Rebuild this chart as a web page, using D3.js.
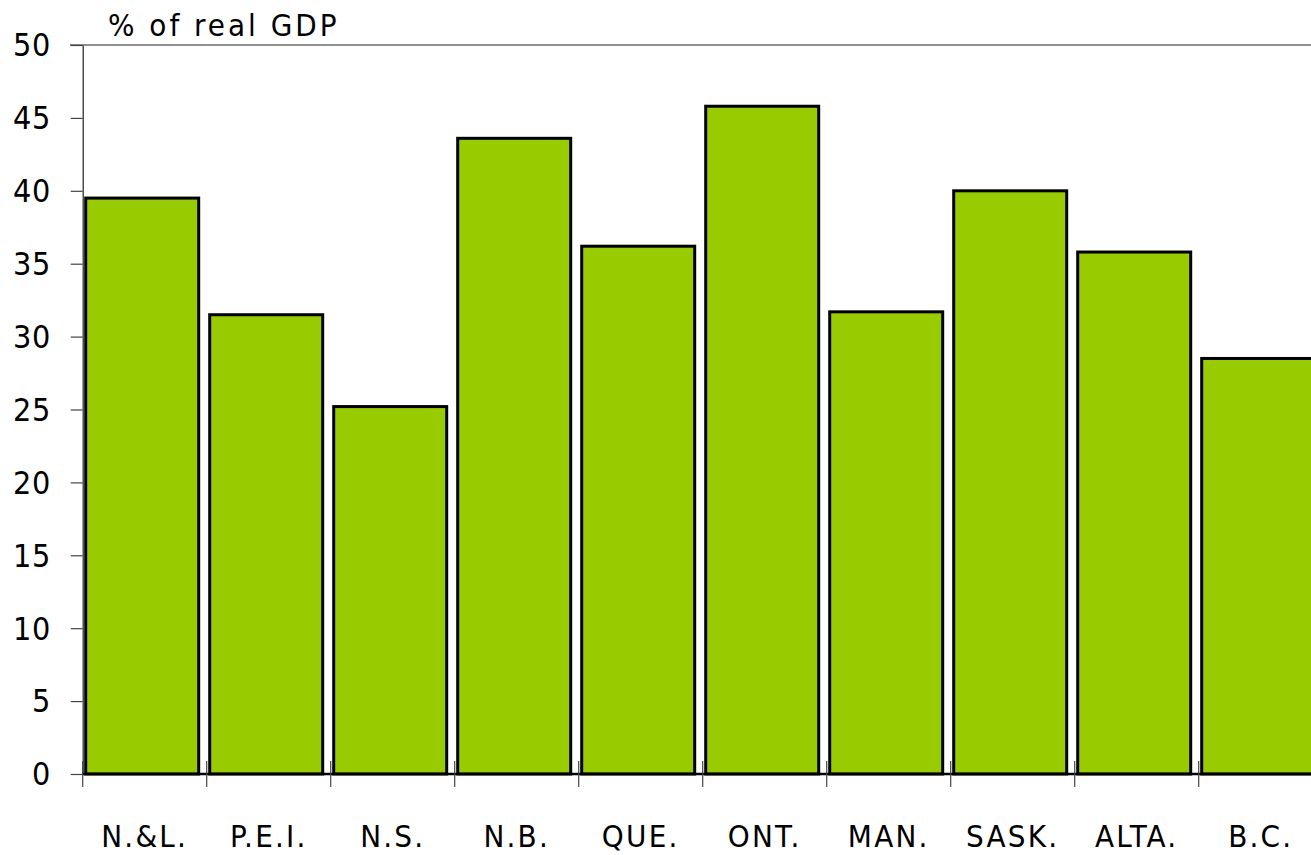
<!DOCTYPE html>
<html>
<head>
<meta charset="utf-8">
<script src="https://cdn.jsdelivr.net/npm/d3@7"></script>
<style>
  html, body { margin: 0; padding: 0; background: #fff; }
  svg { display: block; }
  text { font-family: "DejaVu Sans Condensed", "DejaVu Sans", sans-serif; font-stretch: condensed; fill: #000; }
</style>
</head>
<body>
<svg id="chart" width="1311" height="855"></svg>
<script>
// Provinces and their share of real GDP (%)
const provinces = ["N.&L.", "P.E.I.", "N.S.", "N.B.", "QUE.", "ONT.", "MAN.", "SASK.", "ALTA.", "B.C."];
const shareOfGDP = [39.5, 31.5, 25.2, 43.6, 36.2, 45.8, 31.7, 40.0, 35.8, 28.5];
const yTicks = [0, 5, 10, 15, 20, 25, 30, 35, 40, 45, 50];
const yTitle = "% of real GDP";

const svg = d3.select("#chart");
const plotLeft = 82.7, plotTop = 45, plotBottom = 774;
const band = 124;

const x = d3.scaleBand()
  .domain(provinces)
  .range([plotLeft, plotLeft + band * provinces.length])
  .paddingInner(0).paddingOuter(0);

const y = d3.scaleLinear().domain([0, 50]).range([plotBottom, plotTop]);

// top frame line
svg.append("line")
  .attr("x1", 70).attr("x2", 1311)
  .attr("y1", y(50)).attr("y2", y(50))
  .attr("stroke", "#222").attr("stroke-width", 1.2);

// bars
svg.append("g").selectAll("rect")
  .data(provinces)
  .join("rect")
  .attr("x", d => x(d) + 3)
  .attr("width", x.bandwidth() - 11)
  .attr("y", (d, i) => y(shareOfGDP[i]))
  .attr("height", (d, i) => y(0) - y(shareOfGDP[i]))
  .attr("fill", "#99cc00")
  .attr("stroke", "#000")
  .attr("stroke-width", 3);

// y axis
const yAxis = svg.append("g")
  .attr("transform", `translate(${plotLeft},0)`)
  .call(d3.axisLeft(y).tickValues(yTicks).tickSize(12).tickPadding(20).tickSizeOuter(0));
yAxis.select(".domain").attr("stroke", "#222").attr("stroke-width", 1.2);
yAxis.selectAll(".tick line").attr("stroke", "#444").attr("stroke-width", 1.2);
yAxis.selectAll(".tick text")
  .style("font-size", "32px")
  .style("letter-spacing", "0.5px")
  .attr("dy", "0.34em");

// baseline
svg.append("line")
  .attr("x1", plotLeft).attr("x2", 1311)
  .attr("y1", y(0)).attr("y2", y(0))
  .attr("stroke", "#000").attr("stroke-width", 2.5);

// category boundary ticks
svg.append("g").selectAll("line")
  .data(provinces)
  .join("line")
  .attr("x1", d => x(d)).attr("x2", d => x(d))
  .attr("y1", y(0) - 13).attr("y2", y(0) + 13)
  .attr("stroke", "#444").attr("stroke-width", 1.2);

// category labels
svg.append("g").selectAll("text")
  .data(provinces)
  .join("text")
  .attr("x", d => x(d) + x.bandwidth() / 2)
  .attr("y", 847)
  .attr("text-anchor", "middle")
  .style("font-size", "31px")
  .style("letter-spacing", "2.2px")
  .text(d => d);

// axis title
svg.append("text")
  .attr("x", 108).attr("y", 36)
  .style("font-size", "31px")
  .style("letter-spacing", "3px")
  .text(yTitle);
</script>
</body>
</html>
